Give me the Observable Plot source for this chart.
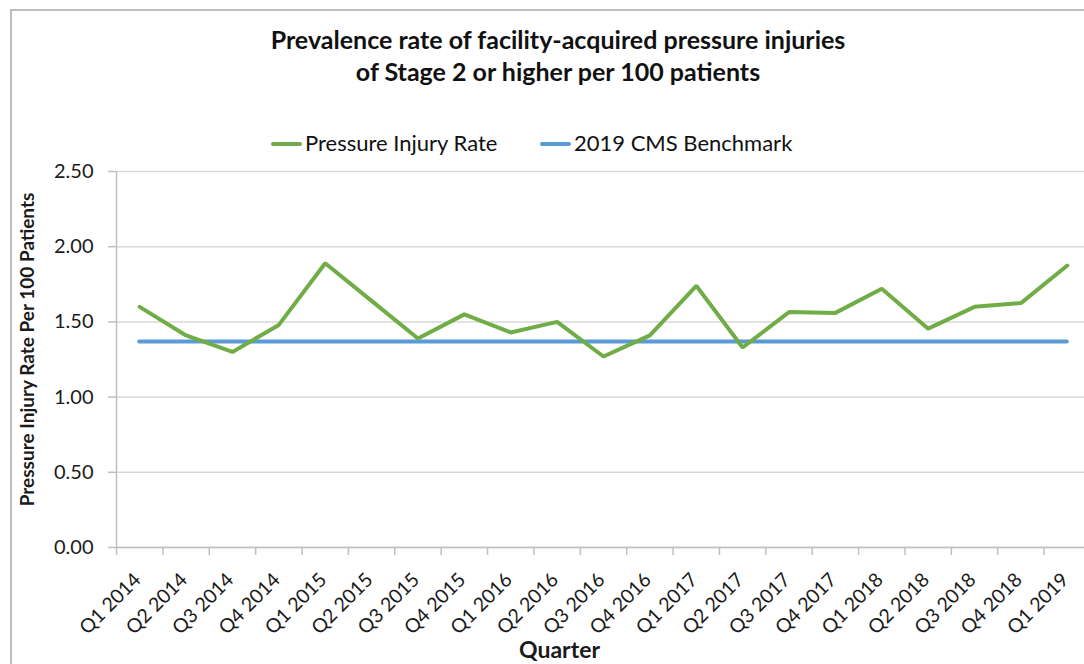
<!DOCTYPE html>
<html>
<head>
<meta charset="utf-8">
<script src="https://cdn.jsdelivr.net/npm/d3@7"></script>
<script src="https://cdn.jsdelivr.net/npm/@observablehq/plot@0.6"></script>
<style>
  html, body { margin: 0; padding: 0; background: #fff; }
  #wrap { position: relative; width: 1084px; height: 664px; overflow: hidden; font-family: Lato, "Liberation Sans", sans-serif; color: #111; }
  #border { position: absolute; left: 10px; top: 9px; width: 1100px; height: 700px; border-left: 2px solid #bdbdbd; border-top: 2px solid #bdbdbd; box-sizing: border-box; pointer-events: none; }
  #header { position: relative; height: 150px; }
  #title { position: absolute; left: 0; width: 1116px; top: 23px; text-align: center; font-weight: 700; font-size: 25px; line-height: 32px; }
  .leg { position: absolute; top: 130px; font-size: 22px; line-height: 26px; white-space: nowrap; }
  .sw { display: inline-block; width: 31px; height: 4px; border-radius: 2px; vertical-align: middle; margin-right: 3px; position: relative; top: -1px; }
  #chart svg { display: block; }
</style>
</head>
<body>
<div id="wrap">
  <div id="border"></div>
  <div id="header">
    <div id="title">Prevalence rate of facility-acquired pressure injuries<br>of Stage 2 or higher per 100 patients</div>
    <div class="leg" style="left:271px"><span class="sw" style="background:#70ad47"></span>Pressure Injury Rate</div>
    <div class="leg" style="left:540px"><span class="sw" style="background:#5b9bd5"></span>2019 CMS Benchmark</div>
  </div>
  <div id="chart"></div>
</div>
<script>
const quarters = ["Q1 2014","Q2 2014","Q3 2014","Q4 2014","Q1 2015","Q2 2015","Q3 2015","Q4 2015",
  "Q1 2016","Q2 2016","Q3 2016","Q4 2016","Q1 2017","Q2 2017","Q3 2017","Q4 2017",
  "Q1 2018","Q2 2018","Q3 2018","Q4 2018","Q1 2019"];
const rates = [1.60, 1.41, 1.30, 1.48, 1.89, 1.64, 1.39, 1.55, 1.43, 1.50, 1.27, 1.41,
  1.74, 1.33, 1.565, 1.56, 1.72, 1.455, 1.60, 1.625, 1.875];
const benchmark = 1.37;
const yTicks = [0, 0.5, 1.0, 1.5, 2.0, 2.5];

const data = quarters.map((q, i) => ({i, q, rate: rates[i]}));
const boundaries = d3.range(quarters.length + 1).map(i => i - 0.5);
const n = quarters.length;

const axisGray = "#bfbfbf";
const gridGray = "#d9d9d9";
const textColor = "#1a1a1a";
const font = "Lato, 'Liberation Sans', sans-serif";

const chart = Plot.plot({
  width: 1084,
  height: 514,
  marginTop: 21,
  marginBottom: 117,
  marginLeft: 116,
  marginRight: 0,
  style: {fontFamily: font, background: "transparent", overflow: "hidden"},
  x: {domain: [-0.5, n - 0.5], range: [116, 1090], axis: null},
  y: {domain: [0, 2.5], axis: null},
  marks: [
    Plot.gridY(yTicks, {stroke: gridGray, strokeOpacity: 1, strokeWidth: 1.5}),
    Plot.axisY(yTicks, {tickSize: 8, tickPadding: 15, stroke: axisGray, strokeWidth: 1.5,
      tickFormat: d3.format(".2f"), fontSize: 20, fill: textColor, label: null}),
    Plot.ruleX([-0.5], {stroke: axisGray, strokeWidth: 1.5}),
    Plot.ruleY([0], {stroke: axisGray, strokeWidth: 1.5}),
    Plot.axisX(boundaries, {tickSize: 8, stroke: axisGray, strokeWidth: 1.5, tickFormat: () => "", label: null}),
    Plot.text(data, {x: "i", text: "q", frameAnchor: "bottom", rotate: -45, textAnchor: "end",
      lineAnchor: "middle", dy: 29, dx: -2, fontSize: 19.5, fill: textColor}),
    Plot.ruleY([benchmark], {x1: 0, x2: n - 1, stroke: "#5b9bd5", strokeWidth: 4, strokeLinecap: "round"}),
    Plot.line(data, {x: "i", y: "rate", stroke: "#70ad47", strokeWidth: 4, strokeLinecap: "round", strokeLinejoin: "miter"}),
    Plot.text(["Pressure Injury Rate Per 100 Patients"], {frameAnchor: "left", rotate: -90, textAnchor: "middle",
      lineAnchor: "middle", dx: -89, dy: -10, fontSize: 19, fontWeight: "bold", fill: textColor}),
    Plot.text(["Quarter"], {frameAnchor: "bottom", dy: 110, dx: -41, fontSize: 23, fontWeight: "bold", fill: textColor})
  ]
});
document.getElementById("chart").appendChild(chart);
</script>
</body>
</html>
